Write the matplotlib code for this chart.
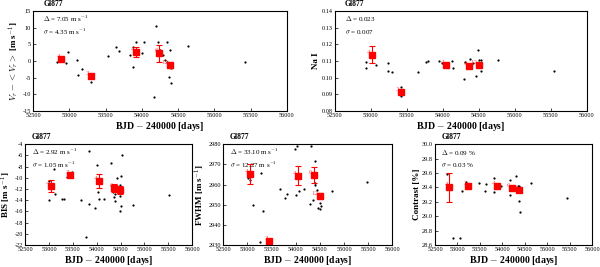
import numpy as np
import matplotlib.pyplot as plt

plt.rcParams["font.family"] = ["Liberation Serif", "DejaVu Serif"]
plt.rcParams["mathtext.fontset"] = "cm"

XLIM = (52500, 56000)
XTICKS = [52500, 53000, 53500, 54000, 54500, 55000, 55500, 56000]
BIN_N = ["4", "3", "4", "6", "12"]

# radial velocity
rv_t = [52832, 52960, 52984, 53113, 53122, 53177, 53297, 53536, 53642, 53683,
        53836, 53873, 53882, 53919, 53997, 54029, 54167, 54195, 54227, 54250,
        54296, 54319, 54342, 54352, 54365, 54374, 54388, 54398, 54402, 54642, 55425]
rv_v = [-0.2, -0.7, 2.6, 0.3, -4.2, -2.4, -6.4, 1.5, 4.2, 3.0,
        1.8, 4.3, -1.7, 5.8, 2.3, 5.7, -10.9, 10.5, 5.6, 3.3,
        1.8, 0.3, -0.2, 5.6, -0.7, -4.7, 3.3, -6.5, -2.2, 4.6, -0.2]
rv_bt = [52891, 53297, 53919, 54241, 54388]
rv_bv = [0.5, -4.5, 2.6, 2.3, -1.2]
rv_be = [0.5, 0.6, 1.5, 2.5, 1.0]

# Na I index
na_t = [52940, 52940, 53070, 53232, 53232, 53288, 53418, 53418, 53650, 53766,
        53798, 53951, 53984, 54123, 54146, 54294, 54308, 54378, 54415, 54456,
        54484, 54503, 54526, 54531, 54772, 55551]
na_v = [0.1092, 0.1058, 0.1078, 0.1088, 0.1042, 0.1034, 0.0943, 0.0890, 0.1032, 0.1092,
        0.1098, 0.1098, 0.1088, 0.1102, 0.1058, 0.0992, 0.1092, 0.1112, 0.1088, 0.1012,
        0.1165, 0.1104, 0.1108, 0.1038, 0.1108, 0.1042]
na_bt = [53010, 53418, 54039, 54364, 54507]
na_bv = [0.1138, 0.0913, 0.1078, 0.1068, 0.1078]
na_be = [0.005, 0.0006, 0.0006, 0.0008, 0.0008]

# bisector span
bis_t = [52990, 52990, 53095, 53116, 53270, 53305, 53375, 53480, 53676, 53781,
         53830, 53830, 53970, 54005, 54026, 54040, 54145, 54299, 54334, 54355,
         54390, 54390, 54425, 54481, 54495, 54495, 54509, 54516, 54530, 54761, 55509]
bis_v = [-10.5, -13.9, -8.4, -12.9, -13.7, -13.7, -9.9, -9.0, -13.9, -20.6,
         -5.3, -14.6, -15.3, -7.8, -12.6, -13.8, -13.7, -7.4, -12.6, -13.4,
         -14.1, -12.9, -10.1, -11.2, -15.9, -13.2, -15.0, -9.6, -6.0, -14.8, -13.1]
bis_bt = [53039, 53445, 54040, 54369, 54495]
bis_bv = [-11.4, -9.5, -10.6, -11.8, -12.2]
bis_be = [1.1, 0.3, 1.2, 0.7, 0.7]

# FWHM
fw_t = [53276, 53020, 53054, 53110, 53318, 53262, 53678, 53782, 53830, 53976,
        54025, 54004, 54059, 54163, 54316, 54302, 54357, 54392, 54406, 54406,
        54440, 54454, 54496, 54510, 54524, 54524, 54752, 55480]
fw_v = [2965.6, 2963.2, 2962.2, 2949.8, 2946.8, 2931.7, 2957.7, 2953.5, 2955.5, 2977.5,
        2979.0, 2954.8, 2956.8, 2957.7, 2979.0, 2950.5, 2952.1, 2971.6, 2961.0, 2959.9,
        2957.2, 2948.5, 2948.1, 2951.0, 2949.3, 2953.5, 2956.8, 2961.5]
fw_bt = [53054, 53456, 54038, 54371, 54496]
fw_bv = [2965.2, 2932.0, 2964.4, 2964.7, 2954.3]
fw_be = [4.8, 0.6, 4.8, 4.0, 1.5]

# contrast
ct_t = [52761, 53096, 53058, 52895, 53185, 53490, 53617, 53639, 53803, 53803,
        53974, 54175, 54175, 54213, 54250, 54309, 54339, 54362, 54362, 54377,
        54384, 54637, 55441]
ct_v = [29.59, 29.35, 28.70, 28.70, 29.47, 29.46, 29.35, 29.45, 29.53, 29.34,
        29.42, 29.50, 29.29, 29.40, 29.38, 29.56, 29.42, 29.34, 29.42, 29.21,
        29.06, 29.46, 29.26]
ct_bt = [52820, 53245, 53878, 54213, 54377]
ct_bv = [29.40, 29.42, 29.42, 29.39, 29.37]
ct_be = [0.20, 0.01, 0.02, 0.02, 0.03]

panels = [
    ([0.055, 0.584, 0.423, 0.375], rv_t, rv_v, rv_bt, rv_bv, rv_be,
     (-15, 15), np.arange(-15, 16, 5), r"$V_r - <V_r>$ [m s$^{-1}$]",
     [r"$\Delta$ = 7.05 m s$^{-1}$", r"$\sigma$ = 4.35 m s$^{-1}$"], "%d"),
    ([0.558, 0.584, 0.420, 0.375], na_t, na_v, na_bt, na_bv, na_be,
     (0.08, 0.14), np.arange(0.08, 0.141, 0.01), "Na I",
     [r"$\Delta$ = 0.023", r"$\sigma$ = 0.007"], "%.2f"),
    ([0.042, 0.082, 0.278, 0.378], bis_t, bis_v, bis_bt, bis_bv, bis_be,
     (-22, -4), np.arange(-22, -3, 2), r"BIS [m s$^{-1}$]",
     [r"$\Delta$ = 2.92 m s$^{-1}$", r"$\sigma$ = 1.05 m s$^{-1}$"], "%d"),
    ([0.372, 0.082, 0.282, 0.378], fw_t, fw_v, fw_bt, fw_bv, fw_be,
     (2930, 2980), np.arange(2930, 2981, 10), r"FWHM [m s$^{-1}$]",
     [r"$\Delta$ = 33.10 m s$^{-1}$", r"$\sigma$ = 12.27 m s$^{-1}$"], "%d"),
    ([0.725, 0.082, 0.262, 0.378], ct_t, ct_v, ct_bt, ct_bv, ct_be,
     (28.6, 30.0), np.arange(28.6, 30.01, 0.2), "Contrast [%]",
     [r"$\Delta$ = 0.09 %", r"$\sigma$ = 0.03 %"], "%.1f"),
]

fig = plt.figure(figsize=(6, 2.67), dpi=100)

for rect, t, v, bt, bv, be, ylim, yticks, ylab, notes, fmt in panels:
    ax = fig.add_axes(rect)
    ax.plot(t, v, "o", color="black", ms=1.6, mew=0)
    ax.errorbar(bt, bv, yerr=be, fmt="s", color="red", ms=4, lw=0.8,
                capsize=2, capthick=0.8)
    for x, y, n in zip(bt, bv, BIN_N):
        ax.annotate(n, (x, y), xytext=(-1, 0), textcoords="offset points",
                    ha="right", va="bottom", color="red", alpha=0.7, fontsize=5)
    ax.set_xlim(*XLIM)
    ax.set_ylim(*ylim)
    ax.set_xticks(XTICKS)
    ax.set_yticks(yticks)
    ax.set_yticklabels([fmt % y for y in yticks])
    ax.tick_params(direction="in", labelsize=4.5, length=2, width=0.5, pad=1.5)
    for s in ax.spines.values():
        s.set_linewidth(0.8)
    ax.set_xlabel("BJD $-$ 240000 [days]", fontsize=7, fontweight="bold", labelpad=1)
    ax.set_ylabel(ylab, fontsize=6.5, fontweight="bold", labelpad=1)
    ax.text(0.04, 1.03, "Gl877", transform=ax.transAxes, fontsize=5.5,
            fontweight="bold", va="bottom")
    ax.text(0.04, 0.92, notes[0], transform=ax.transAxes, fontsize=5, va="center")
    ax.text(0.04, 0.79, notes[1], transform=ax.transAxes, fontsize=5, va="center")

fig.savefig("out.png", dpi=100)
